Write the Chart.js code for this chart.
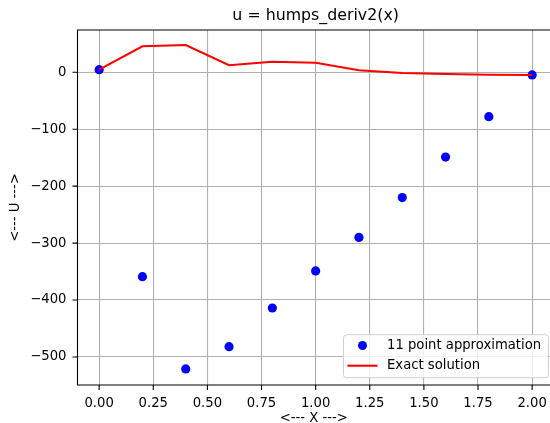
<!DOCTYPE html>
<html><head><meta charset="utf-8">
<script src="https://cdn.jsdelivr.net/npm/chart.js@4/dist/chart.umd.min.js"></script>
<style>html,body{margin:0;padding:0;overflow:hidden;background:#fff}</style>
</head><body><canvas id="c" width="550" height="423"></canvas>
<script>
const xValues = [0.0, 0.2, 0.4, 0.6, 0.8, 1.0, 1.2, 1.4, 1.6, 1.8, 2.0];
const approxValues = [4.6, -359, -521, -482, -414, -349, -290, -220, -149, -78, -4.7];
const exactValues = [4.6, 45.7, 48, 12.3, 18.6, 16.9, 3.5, -1.2, -3.0, -4.2, -4.7];
const xTickValues = [0, 0.25, 0.5, 0.75, 1.0, 1.25, 1.5, 1.75, 2.0];
const xTickLabels = ['0.00', '0.25', '0.50', '0.75', '1.00', '1.25', '1.50', '1.75', '2.00'];
const yTickValues = [-500, -400, -300, -200, -100, 0];
const yTickLabels = ['\u2212500', '\u2212400', '\u2212300', '\u2212200', '\u2212100', '0'];
const chartTitle = 'u = humps_deriv2(x)';
const xAxisTitle = '<--- X --->';
const yAxisTitle = '<--- U --->';
const seriesLabels = ['11 point approximation', 'Exact solution'];

const FONT = 'DejaVu Sans';
const tickFont = {family: FONT, size: 13.2};
const X_MIN = -0.1, X_FULL_MAX = 2.1;   // matplotlib limits; the right spine lies just past the picture edge
const PX_PER_X = 216.5;                  // horizontal scale of the reference plot

const decor = {
  id: 'decor',
  afterDraw(chart) {
    const ctx = chart.ctx, ca = chart.chartArea;
    const xs = chart.scales.x, ys = chart.scales.y;
    const fullRight = xs.getPixelForValue(X_FULL_MAX);
    ctx.save();
    ctx.strokeStyle = '#000'; ctx.lineWidth = 1.1;
    ctx.beginPath();
    ctx.moveTo(fullRight, ca.top); ctx.lineTo(ca.left, ca.top); ctx.lineTo(ca.left, ca.bottom); ctx.lineTo(fullRight, ca.bottom);
    xs.ticks.forEach(t => { const p = xs.getPixelForValue(t.value); ctx.moveTo(p, ca.bottom); ctx.lineTo(p, ca.bottom + 5); });
    ys.ticks.forEach(t => { const p = ys.getPixelForValue(t.value); ctx.moveTo(ca.left - 5, p); ctx.lineTo(ca.left, p); });
    ctx.stroke();
    ctx.fillStyle = '#000';
    ctx.font = '15.8px "' + FONT + '"';
    ctx.textAlign = 'center'; ctx.textBaseline = 'middle';
    ctx.fillText(chartTitle, (ca.left + fullRight) / 2, 15.5);
    const ds = chart.data.datasets;
    const w = 205, h = 43;
    const right = fullRight - 5.3, bottom = ca.bottom - 7.3;
    const lx = right - w, ly = bottom - h;
    ctx.beginPath();
    ctx.roundRect(lx, ly, w, h, 3);
    ctx.fillStyle = 'rgba(255,255,255,0.8)'; ctx.fill();
    ctx.strokeStyle = '#d0d0d0'; ctx.lineWidth = 1; ctx.stroke();
    ctx.beginPath();
    ctx.arc(lx + 19, ly + 10.8, 4.5, 0, Math.PI * 2);
    ctx.fillStyle = ds[0].backgroundColor; ctx.fill();
    ctx.beginPath();
    ctx.moveTo(lx + 4, ly + 31); ctx.lineTo(lx + 34, ly + 31);
    ctx.strokeStyle = ds[1].borderColor; ctx.lineWidth = 2.1; ctx.stroke();
    ctx.fillStyle = '#000';
    ctx.font = '13.2px "' + FONT + '"';
    ctx.textAlign = 'left'; ctx.textBaseline = 'middle';
    ctx.fillText(ds[0].label, lx + 43.5, ly + 10.8);
    ctx.fillText(ds[1].label, lx + 43.5, ly + 31);
    ctx.restore();
  }
};

const chart = new Chart(document.getElementById('c'), {
  type: 'line',
  data: {
    datasets: [
      {
        label: seriesLabels[0],
        data: xValues.map((x, i) => ({x: x, y: approxValues[i]})),
        showLine: false,
        pointRadius: 4.6,
        pointBorderWidth: 0,
        backgroundColor: '#0000ff',
        borderColor: '#0000ff',
        order: 1
      },
      {
        label: seriesLabels[1],
        data: xValues.map((x, i) => ({x: x, y: exactValues[i]})),
        borderColor: '#ff0000',
        backgroundColor: '#ff0000',
        borderWidth: 2.1,
        pointRadius: 0,
        tension: 0,
        fill: false,
        order: 0
      }
    ]
  },
  options: {
    responsive: false,
    devicePixelRatio: 1,
    animation: false,
    layout: {autoPadding: false, padding: {top: 30, right: 0, left: 0, bottom: 0}},
    plugins: {legend: {display: false}, title: {display: false}, tooltip: {enabled: false}},
    scales: {
      x: {
        type: 'linear', min: X_MIN, max: 2.0824,
        afterBuildTicks: s => { s.ticks = xTickValues.map(v => ({value: v})); },
        afterFit: s => { s.height = 38; s.paddingLeft = 0; s.paddingRight = 0; },
        grid: {color: '#b0b0b0', lineWidth: 1.1, drawTicks: false},
        border: {display: false},
        ticks: {font: tickFont, color: '#000', padding: 11, autoSkip: false, maxRotation: 0,
                callback: (v, i) => xTickLabels[i]},
        title: {display: true, text: xAxisTitle, font: {family: FONT, size: 13.2}, color: '#000',
                padding: {top: 0, bottom: -3.2}}
      },
      y: {
        type: 'linear', min: -549.3, max: 74.3,
        afterBuildTicks: s => { s.ticks = yTickValues.map(v => ({value: v})); },
        afterFit: s => { s.width = 77.5; s.paddingTop = 0; s.paddingBottom = 0; },
        grid: {color: '#b0b0b0', lineWidth: 1.1, drawTicks: false},
        border: {display: false},
        ticks: {font: tickFont, color: '#000', padding: 11, autoSkip: false,
                callback: (v, i) => yTickLabels[i]},
        title: {display: true, text: yAxisTitle, font: {family: FONT, size: 13.2}, color: '#000',
                padding: {top: 8, bottom: 0}}
      }
    }
  },
  plugins: [decor]
});

// keep the reference's horizontal scale: the visible plot ends at the canvas edge, short of x = 2.1
const ca0 = chart.chartArea;
chart.options.scales.x.max = X_MIN + (ca0.right - ca0.left) / PX_PER_X;
chart.update();
</script>
</body></html>
